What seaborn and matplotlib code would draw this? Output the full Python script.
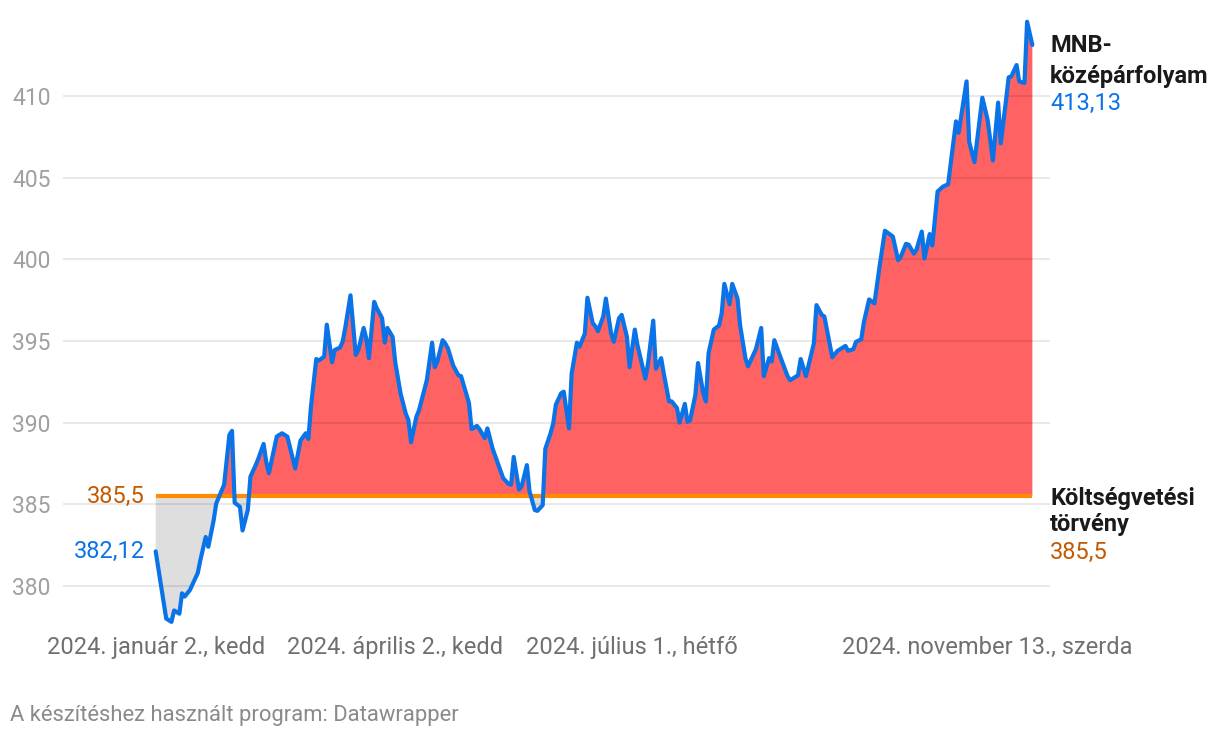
import pandas as pd
import seaborn as sns
import matplotlib.pyplot as plt

# EUR/HUF MNB középárfolyam 2024 (napok jan. 2-től), leolvasott értékek
days = [0, 4, 6, 7, 9, 10, 11, 13, 16, 17, 19, 20, 22, 23, 26, 28, 29, 30, 32, 33,
        35, 36, 38, 39, 41, 42, 43, 46, 48, 50, 53, 55, 57, 58, 59, 61, 62, 64, 65, 67,
        68, 70, 71, 72, 74, 76, 77, 79, 80, 81, 83, 84, 86, 87, 88, 90, 91, 93, 95, 96,
        97, 99, 100, 103, 105, 106, 107, 109, 110, 111, 113, 115, 116, 119, 120, 122, 123, 125, 126, 128,
        130, 132, 134, 135, 136, 138, 139, 141, 142, 144, 145, 147, 148, 150, 151, 152, 154, 155, 157, 158,
        160, 161, 163, 164, 166, 167, 168, 170, 171, 173, 174, 176, 177, 179, 180, 182, 183, 186, 187, 189,
        190, 192, 193, 195, 196, 198, 199, 201, 202, 203, 205, 206, 208, 209, 210, 212, 214, 215, 216, 218,
        219, 221, 222, 224, 225, 227, 228, 230, 231, 233, 234, 235, 237, 240, 241, 244, 245, 247, 250, 251,
        253, 254, 257, 259, 262, 263, 265, 266, 268, 269, 271, 273, 275, 277, 280, 282, 283, 285, 286, 288,
        289, 291, 292, 294, 295, 297, 299, 301, 304, 305, 308, 309, 311, 314, 316, 318, 320, 321, 323, 324,
        325, 327, 328, 330, 331, 333]
rate = [382.12, 378.0, 377.8, 378.5, 378.3, 379.55, 379.35, 379.75, 380.8, 381.6,
        383.0, 382.4, 384.0, 385.05, 386.2, 389.25, 389.5, 385.1, 384.85, 383.4,
        384.65, 386.7, 387.4, 387.8, 388.7, 387.6, 386.9, 389.15, 389.35, 389.15,
        387.2, 388.9, 389.35, 389.0, 391.0, 393.9, 393.8, 394.05, 396.0, 393.7,
        394.45, 394.6, 394.95, 395.8, 397.8, 394.15, 394.45, 395.8, 395.15, 393.95,
        397.4, 397.0, 396.4, 394.9, 395.8, 395.25, 393.7, 391.8, 390.55, 390.15,
        388.8, 390.35, 390.75, 392.6, 394.9, 393.4, 393.75, 395.05, 394.85, 394.55,
        393.5, 392.9, 392.85, 391.2, 389.6, 389.8, 389.6, 389.05, 389.65, 388.4,
        387.5, 386.6, 386.25, 386.2, 387.9, 385.9, 386.1, 387.4, 385.8, 384.65,
        384.6, 384.95, 388.4, 389.35, 389.95, 391.1, 391.8, 391.9, 389.65, 393.0,
        394.9, 394.65, 395.45, 397.65, 396.1, 395.9, 395.6, 396.5, 397.6, 395.45,
        394.95, 396.4, 396.6, 395.25, 393.4, 395.7, 394.75, 392.7, 393.6, 396.25,
        393.3, 393.95, 393.0, 391.3, 391.3, 390.9, 390.0, 391.15, 390.05, 390.15,
        391.7, 393.65, 391.8, 391.3, 394.25, 395.7, 395.95, 396.7, 398.5, 397.25,
        398.5, 397.6, 395.95, 393.95, 393.45, 394.15, 394.5, 395.8, 392.85, 393.95,
        393.75, 395.05, 394.15, 392.85, 392.6, 392.9, 393.9, 392.85, 394.85, 397.2,
        396.6, 396.5, 394.0, 394.4, 394.7, 394.4, 394.5, 394.95, 395.1, 396.15,
        397.55, 397.3, 399.6, 401.75, 401.4, 399.95, 400.15, 400.95, 400.9, 400.35,
        400.6, 401.7, 400.05, 401.55, 400.85, 404.15, 404.45, 404.6, 408.45, 407.75,
        410.9, 407.2, 405.95, 409.9, 408.55, 406.05, 409.6, 407.1, 409.75, 411.15,
        411.2, 411.9, 410.9, 410.8, 414.55, 413.13]
budget = 385.5
yticks = [380, 385, 390, 395, 400, 405, 410]
xtick_dates = ["2024-01-02", "2024-04-02", "2024-07-01", "2024-11-13"]
xtick_labels = ["2024. január 2., kedd", "2024. április 2., kedd",
                "2024. július 1., hétfő", "2024. november 13., szerda"]

start = pd.Timestamp("2024-01-02")
df = pd.DataFrame({"date": start + pd.to_timedelta(days, unit="D"), "rate": rate})

BLUE = "#0a73e8"
ORANGE = "#ff8c00"
ORANGE_TXT = "#c45a00"
RED = "#ff6262"
GREY_FILL = "#dedede"

sns.set_style("white")
plt.rcParams["font.family"] = ["Roboto", "DejaVu Sans"]

fig = plt.figure(figsize=(12.2, 7.38), dpi=100)
ax = fig.add_axes([63 / 1220, 1 - 625 / 738, 987 / 1220, 615 / 738])

ax.fill_between(df["date"], df["rate"], budget, where=df["rate"] >= budget,
                interpolate=True, color=RED, lw=0, zorder=1)
ax.fill_between(df["date"], df["rate"], budget, where=df["rate"] <= budget,
                interpolate=True, color=GREY_FILL, lw=0, zorder=1)
ax.hlines(budget, df["date"].iloc[0], df["date"].iloc[-1], color=ORANGE, lw=3, zorder=3)
sns.lineplot(data=df, x="date", y="rate", ax=ax, color=BLUE, lw=3, zorder=4)

ax.set_xlim(start - pd.Timedelta(days=35.2), start + pd.Timedelta(days=339.7))
ax.set_ylim(377.61, 415.27)
ax.set_yticks(yticks)
ax.set_yticklabels([str(v) for v in yticks])
ax.set_xticks(pd.to_datetime(xtick_dates))
ax.set_xticklabels(xtick_labels)
ax.set_xlabel("")
ax.set_ylabel("")
ax.grid(axis="y", color="black", alpha=0.1, lw=1.2, zorder=2)
ax.grid(axis="x", visible=False)
ax.set_axisbelow(False)
for s in ax.spines.values():
    s.set_visible(False)
ax.tick_params(axis="y", length=0, pad=9, labelsize=16.5, labelcolor="#a0a0a0")
ax.tick_params(axis="x", length=0, pad=8, labelsize=17, labelcolor="#707070")
for lab in ax.get_yticklabels():
    lab.set_horizontalalignment("right")

# feliratok az első értékeknél
first_txt = f"{rate[0]:.2f}".replace(".", ",")
ax.annotate(first_txt, xy=(df["date"].iloc[0], rate[0]), xytext=(-8, 0),
            textcoords="offset points", ha="right", va="center", color=BLUE, fontsize=17)
ax.annotate(f"{budget}".replace(".", ","), xy=(df["date"].iloc[0], budget), xytext=(-8, 0),
            textcoords="offset points", ha="right", va="center", color=ORANGE_TXT, fontsize=17)

# jobb oldali címkék
def ftext(x, y, s, **kw):
    fig.text(x / 1220, 1 - y / 738, s, va="baseline", ha="left", **kw)

ftext(1050, 52, "MNB-", fontsize=17, fontweight="bold", color="#1a1a1a")
ftext(1050, 82.5, "középárfolyam", fontsize=17, fontweight="bold", color="#1a1a1a")
ftext(1050, 110, f"{rate[-1]:.2f}".replace(".", ","), fontsize=17, color=BLUE)
ftext(1050, 505, "Költségvetési", fontsize=17, fontweight="bold", color="#1a1a1a")
ftext(1050, 531, "törvény", fontsize=17, fontweight="bold", color="#1a1a1a")
ftext(1050, 559, f"{budget}".replace(".", ","), fontsize=17, color=ORANGE_TXT)

ftext(10, 721, "A készítéshez használt program: Datawrapper", fontsize=15.8, color="#8a8a8a")

fig.savefig("out.png", dpi=100)
